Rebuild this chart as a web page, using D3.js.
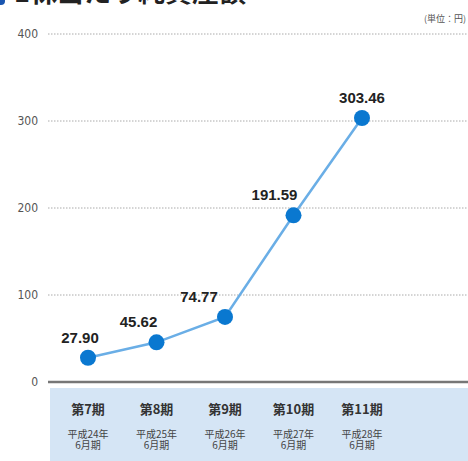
<!DOCTYPE html>
<html><head><meta charset="utf-8">
<script src="https://cdn.jsdelivr.net/npm/d3@7"></script>
<style>body{margin:0;background:#fff;}svg{display:block;}</style>
</head><body>
<svg id="c" width="468" height="461"></svg>
<script>
const categories = ["第7期","第8期","第9期","第10期","第11期"];
const subLabels1 = ["平成24年","平成25年","平成26年","平成27年","平成28年"];
const subLabels2 = ["6月期","6月期","6月期","6月期","6月期"];
const values = [27.90, 45.62, 74.77, 191.59, 303.46];
const valueLabels = ["27.90","45.62","74.77","191.59","303.46"];
const yTicks = [0,100,200,300,400];
const title = "1株当たり純資産額";
const unit = "(単位：円)";
// layout-only label shifts
const labelShift = [-8,-18,-26,-19,0];

(function(){
const svg = d3.select("#c");
const W = 468, H = 461;
const mLeft = 48, mBottom = 382, mTop = 34;
const font = "'Noto Sans CJK JP','Noto Sans',sans-serif";

const y = d3.scaleLinear().domain([0,400]).range([mBottom, mTop]);
const x = d3.scalePoint().domain(categories).range([88, 362]);

// title
svg.append("circle").attr("cx",1).attr("cy",1).attr("r",4).attr("fill","#1a56b0");
svg.append("text").attr("x",14).attr("y",2).text(title)
  .attr("font-family",font).attr("font-weight","bold").attr("font-size",27).attr("fill","#222");
svg.append("text").attr("x",466).attr("y",22).attr("text-anchor","end").text(unit)
  .attr("font-family",font).attr("font-size",9).attr("fill","#555");

// band
svg.append("rect").attr("x",50).attr("y",388).attr("width",W-50).attr("height",H-388).attr("fill","#d5e5f5");

// grid
const yAxis = d3.axisLeft(y).tickValues(yTicks).tickSize(0).tickPadding(10);
const ga = svg.append("g").attr("transform",`translate(${mLeft},0)`).call(yAxis);
ga.select(".domain").remove();
ga.selectAll("text").attr("font-family","'DejaVu Sans Condensed','Liberation Sans',sans-serif").attr("font-size",12).attr("fill","#555");
svg.append("g").selectAll("line").data(yTicks.filter(d=>d>0)).join("line")
  .attr("x1",mLeft).attr("x2",W).attr("y1",d=>y(d)).attr("y2",d=>y(d))
  .attr("stroke","#aaa").attr("stroke-width",1).attr("stroke-dasharray","1.5,1.5");
svg.append("line").attr("x1",mLeft).attr("x2",W).attr("y1",y(0)).attr("y2",y(0))
  .attr("stroke","#777").attr("stroke-width",2.5);

// category labels
const cg = svg.append("g");
cg.selectAll("text.cat").data(categories).join("text").attr("class","cat")
  .attr("x",d=>x(d)).attr("y",414).attr("text-anchor","middle").text(d=>d)
  .attr("font-family",font).attr("font-weight","bold").attr("font-size",13).attr("fill","#333");
const st = cg.selectAll("text.s").data(subLabels1).join("text").attr("class","s")
  .attr("text-anchor","middle")
  .attr("font-family",font).attr("font-size",10).attr("fill","#444");
st.append("tspan").attr("x",(d,i)=>x(categories[i])).attr("y",438).text(d=>d);
st.append("tspan").attr("x",(d,i)=>x(categories[i])).attr("y",449).text((d,i)=>subLabels2[i]);

// line
const line = d3.line().x((d,i)=>x(categories[i])).y(d=>y(d));
svg.append("path").datum(values).attr("d",line).attr("fill","none")
  .attr("stroke","#6aaee6").attr("stroke-width",2.5);
svg.append("g").selectAll("circle").data(values).join("circle")
  .attr("cx",(d,i)=>x(categories[i])).attr("cy",d=>y(d)).attr("r",8).attr("fill","#0a78d0");
svg.append("g").selectAll("text").data(values).join("text")
  .attr("x",(d,i)=>x(categories[i])+labelShift[i]).attr("y",d=>y(d)-15)
  .attr("text-anchor","middle").text((d,i)=>valueLabels[i])
  .attr("font-family","'Liberation Sans','DejaVu Sans',sans-serif").attr("font-weight","bold")
  .attr("font-size",15).attr("fill","#222");
})();
</script>
</body></html>
